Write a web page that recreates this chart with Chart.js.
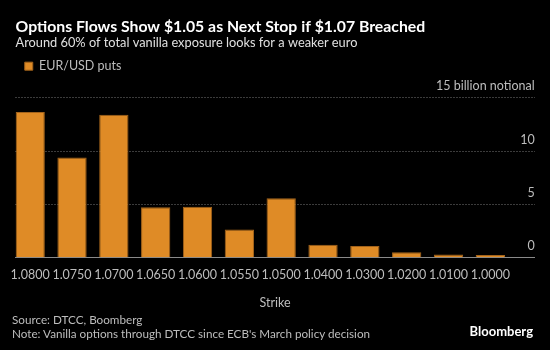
<!DOCTYPE html>
<html>
<head>
<meta charset="utf-8">
<script src="https://cdn.jsdelivr.net/npm/chart.js@4.4.1/dist/chart.umd.min.js"></script>
<style>
  html, body { margin: 0; padding: 0; background: #000; }
  #wrap { position: relative; width: 550px; height: 350px; font-family: Lato, sans-serif; }
  #footer { position: absolute; left: 12px; top: 313px; color: #bdbdbd; font-size: 11.7px; line-height: 13.5px; }
  #brand { position: absolute; right: 17px; top: 323px; color: #fff; font-size: 13px; font-weight: bold; }
</style>
</head>
<body>
<div id="wrap">
  <canvas id="optionsChart" width="550" height="350"></canvas>
  <div id="footer">Source: DTCC, Boomberg<br>Note: Vanilla options through DTCC since ECB's March policy decision</div>
  <div id="brand">Bloomberg</div>
</div>
<script>
  // strikes (x axis) and put notional, billions
  const strikes = ["1.0800", "1.0750", "1.0700", "1.0650", "1.0600", "1.0550", "1.0500", "1.0400", "1.0300", "1.0200", "1.0100", "1.0000"];
  const puts = [13.67, 9.4, 13.4, 4.73, 4.79, 2.64, 5.58, 1.22, 1.09, 0.52, 0.31, 0.25];
  const yTicks = [0, 5, 10, 15];

  const ctx = document.getElementById("optionsChart").getContext("2d");
  Chart.defaults.font.family = "Lato, sans-serif";

  const optionsChart = new Chart(ctx, {
    type: "bar",
    data: {
      datasets: [
        {
          label: "EUR/USD puts",
          data: puts.map((v, i) => ({ x: i, y: v })),
          backgroundColor: "#df8b26",
          borderColor: "#a3631b",
          borderWidth: 1,
          barPercentage: 0.7,
          categoryPercentage: 1,
        },
      ],
    },
    options: {
      responsive: false,
      animation: false,
      layout: { padding: { left: 15.5, right: 15.3, top: 0, bottom: 36 } },
      scales: {
        x: {
          type: "linear",
          offset: false,
          min: -0.351,
          max: 12.06,
          grid: { display: false, drawTicks: false },
          border: { color: "#8a8a8a", width: 1 },
          ticks: {
            stepSize: 1,
            includeBounds: false,
            autoSkip: false,
            maxRotation: 0,
            padding: 10,
            color: "#bdbdbd",
            font: { size: 12.5 },
            callback: (v) => strikes[v] ?? "",
          },
          title: { display: true, text: "Strike", color: "#bdbdbd", font: { size: 12.5 }, padding: { top: 2.3, bottom: 4 } },
        },
        y: {
          position: "right",
          min: 0,
          max: 16.44, // leaves room above the 15 line for its label
          border: { display: false, dash: [1, 2] },
          grid: {
            drawTicks: false,
            color: (c) => (c.tick && c.tick.value === 0 ? "rgba(0,0,0,0)" : "#777777"),
            borderDash: [1, 2],
          },
          afterBuildTicks: (scale) => {
            scale.ticks = yTicks.map((v) => ({ value: v }));
          },
          ticks: {
            mirror: true,
            padding: 0,
            labelOffset: -11.5,
            color: "#bdbdbd",
            font: { size: 12.5 },
            callback: (v) => (v === 15 ? "15 billion notional" : v),
          },
        },
      },
      plugins: {
        title: {
          display: true,
          text: "Options Flows Show $1.05 as Next Stop if $1.07 Breached",
          align: "start",
          color: "#ffffff",
          font: { size: 15.8, weight: "bold", lineHeight: 1 },
          padding: { top: 18.5, bottom: 0 },
        },
        subtitle: {
          display: true,
          text: "Around 60% of total vanilla exposure looks for a weaker euro",
          align: "start",
          color: "#e0e0e0",
          font: { size: 12.8 },
          padding: { top: 1, bottom: 0 },
        },
        legend: {
          align: "start",
          labels: { boxWidth: 8, boxHeight: 8, color: "#bdbdbd", font: { size: 12.5 }, padding: 9.25 },
        },
        tooltip: { enabled: false },
      },
    },
  });
</script>
</body>
</html>
